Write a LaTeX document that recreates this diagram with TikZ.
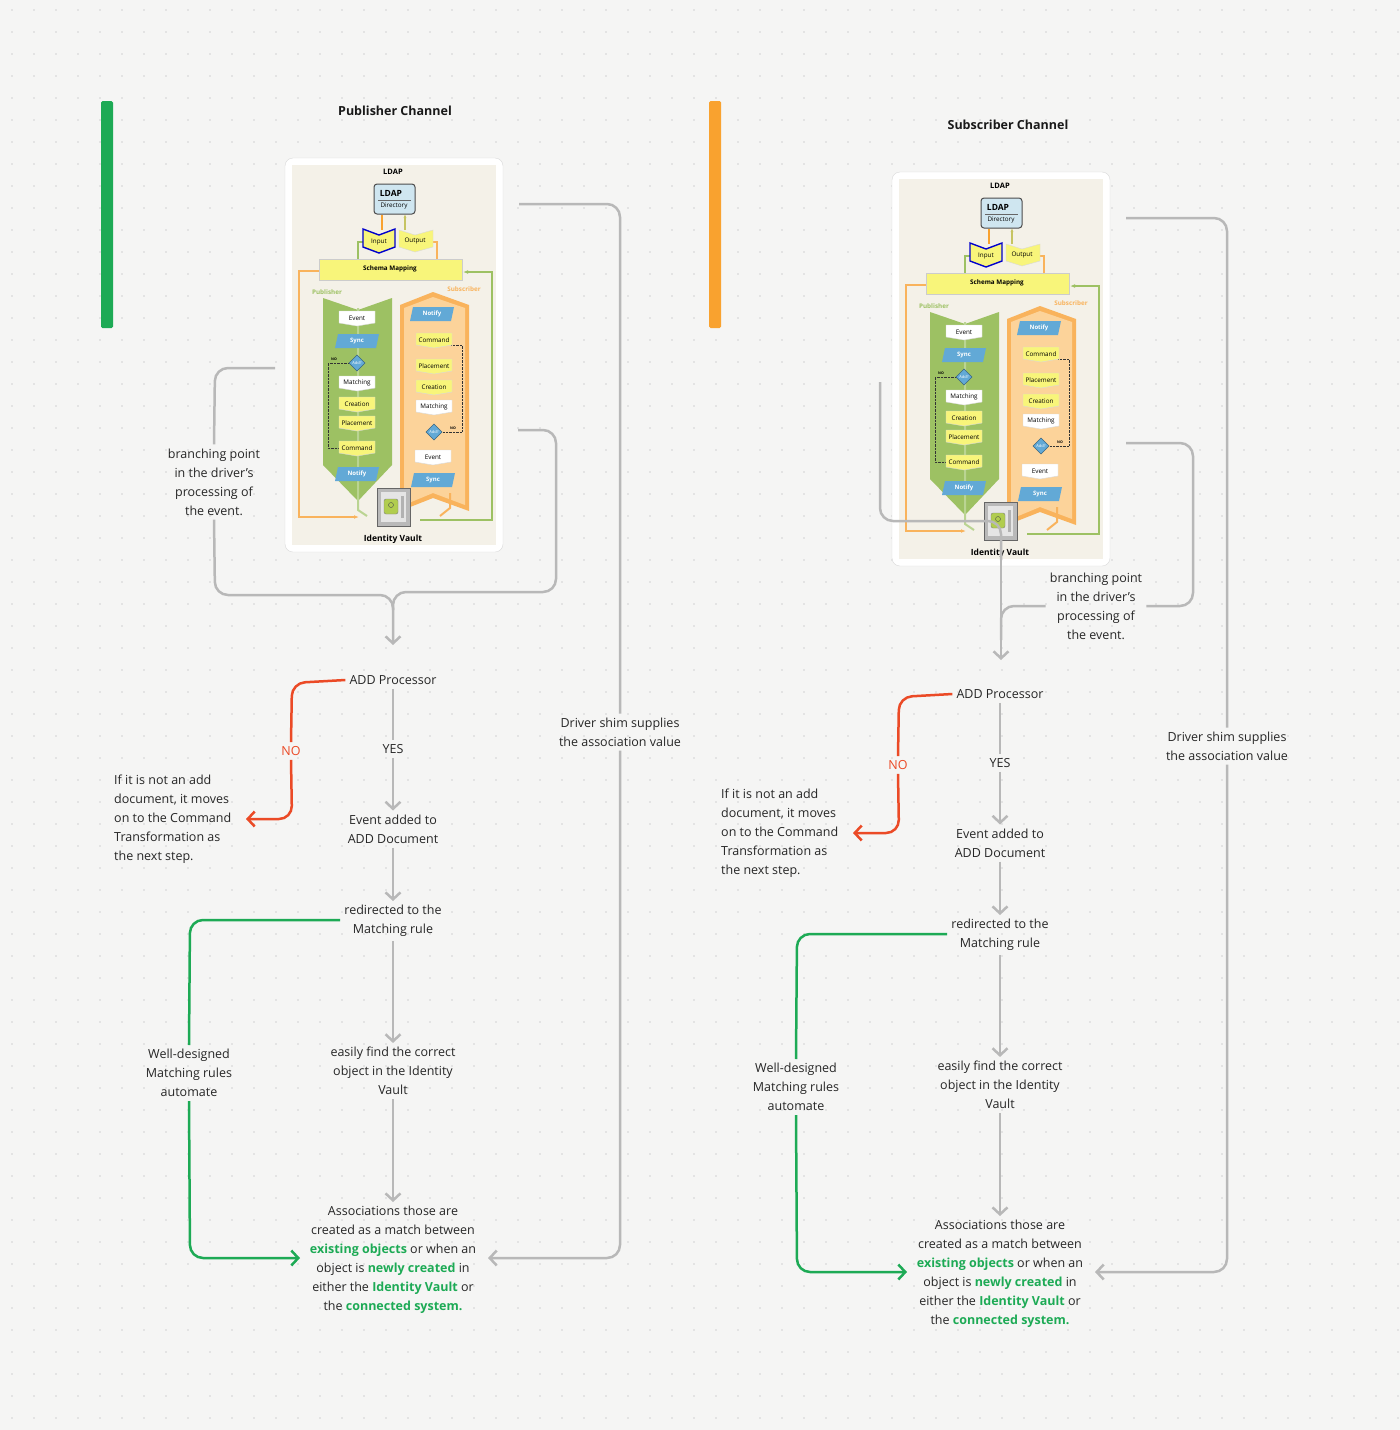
\documentclass[tikz,border=0pt]{standalone}
\usepackage{fontspec}
\setmainfont{Open Sans}
\usetikzlibrary{arrows.meta}
\definecolor{bgc}{HTML}{F5F5F4}
\definecolor{dotc}{HTML}{D2D2D2}
\definecolor{lnc}{HTML}{B8B8B8}
\definecolor{redc}{HTML}{EB4A26}
\definecolor{grc}{HTML}{1DAA55}
\definecolor{orc}{HTML}{F9A22F}
\definecolor{cardbg}{HTML}{F4F1E8}
\definecolor{gA}{HTML}{9DC163}
\definecolor{oA}{HTML}{F9B35C}
\definecolor{oL}{HTML}{FCD39A}
\definecolor{yA}{HTML}{F8F57A}
\definecolor{bA}{HTML}{62A9D6}
\definecolor{ldb}{HTML}{CFE6F0}
\tikzset{
  gl/.style={draw=lnc,line width=2.5pt,rounded corners=13pt},
  rl/.style={draw=redc,line width=2.5pt,rounded corners=13pt},
  grl/.style={draw=grc,line width=2.5pt,rounded corners=13pt},
  tip/.style={-{Straight Barb[length=7pt,width=15pt,line width=2.5pt]}},
  txt/.style={font=\fontsize{12.5}{19}\selectfont,text=black!85,align=center,inner sep=4pt},
  ttl/.style={font=\bfseries\fontsize{12.5}{15}\selectfont,text=black!90},
  tiny/.style={font=\fontsize{6.3}{7}\selectfont,inner sep=0pt},
}
\newcommand\itm[4]{\fill[#3,draw=black!15] (#1-18,#2-7) -- (#1+18,#2-7) -- (#1+18,#2+5) -- (#1,#2+8) -- (#1-18,#2+5) -- cycle;
  \node[tiny] at (#1,#2) {#4};}
\newcommand\blu[3]{\fill[bA] (#1-19,#2-7) -- (#1+22,#2-7) -- (#1+19,#2+7) -- (#1-22,#2+7) -- cycle;
  \node[tiny,text=white,font=\bfseries\fontsize{6}{6}\selectfont] at (#1,#2) {#3};}
\newcommand\dia[2]{\fill[bA,draw=bA!60!black] (#1,#2-8) -- (#1+8,#2) -- (#1,#2+8) -- (#1-8,#2) -- cycle;
  \node[tiny,font=\fontsize{4}{5}\selectfont,text=white] at (#1,#2) {Add?};}
\newcommand\card{%
  \fill[white,draw=black!15,rounded corners=8pt] (0,0) rectangle (218,394);
  \fill[cardbg] (7,7) rectangle (211,387);
  \node[tiny,font=\bfseries\fontsize{7.5}{8}\selectfont] at (108,14) {LDAP};
  \draw[orc,line width=2pt] (97,57) -- (97,72);
  \draw[yA!80!black,line width=2pt,-{Latex[length=4pt]}] (120,72) -- (120,56);
  \draw[gA,line width=2pt] (80,84) -- (73,84) -- (73,101);
  \draw[oA,line width=2pt] (146,84) -- (152,84) -- (152,101);
  \draw[rounded corners=3pt,fill=ldb,draw=black!70,line width=1pt] (89,26) rectangle (130,56);
  \node[tiny,font=\bfseries\fontsize{8.5}{8}\selectfont] at (106,35) {LDAP};
  \draw[black!60] (93,42) -- (126,42);
  \node[tiny] at (109,48) {Directory};
  \draw[blue!80!black,line width=1.4pt,fill=yA] (78,71) -- (94,77) -- (110,71) -- (110,89) -- (94,95) -- (78,89) -- cycle;
  \node[tiny] at (94,84) {Input};
  \fill[yA,draw=black!15] (114,72) -- (130,77) -- (148,72) -- (148,89) -- (130,94) -- (114,89) -- cycle;
  \node[tiny] at (130,83) {Output};
  \draw[oA,line width=2pt,-{Latex[length=5pt]}] (34,113) -- (14,113) -- (14,359) -- (74,359);
  \draw[gA,line width=2pt,-{Latex[length=5pt]}] (135,362) -- (207,362) -- (207,114) -- (178,114);
  \fill[yA,draw=black!20] (34,101) rectangle (177,122);
  \node[tiny,font=\bfseries\fontsize{6.3}{6}\selectfont] at (105,111) {Schema Mapping};
  \node[tiny,font=\bfseries\fontsize{6.3}{6}\selectfont,text=gA] at (42,134) {Publisher};
  \node[tiny,font=\bfseries\fontsize{6.3}{6}\selectfont,text=oA] at (179,131) {Subscriber};
  \fill[gA] (38,140) -- (73,152) -- (107,140) -- (107,307) -- (73,343) -- (38,307) -- cycle;
  \fill[oA] (115,147) -- (148,134) -- (184,147) -- (184,353) -- (148,340) -- (115,353) -- cycle;
  \fill[oL] (119,150) -- (148,139) -- (180,150) -- (180,347) -- (148,335) -- (119,347) -- cycle;
  \draw[gA!70!white,line width=2pt] (73,150) -- (73,352) -- (82,358);
  \draw[oA,line width=2pt] (165,335) -- (165,350) -- (155,358);
  \draw[densely dotted,black!80] (66,205) -- (43,205) -- (43,290) -- (55,290);
  \node[tiny,font=\bfseries\fontsize{3.5}{4}\selectfont] at (49,201) {NO};
  \draw[densely dotted,black!80] (158,274) -- (177,274) -- (177,187) -- (166,187);
  \node[tiny,font=\bfseries\fontsize{3.5}{4}\selectfont] at (168,270) {NO};
  \itm{72}{160}{white}{Event}
  \blu{72}{183}{Sync}
  \dia{72}{205}
  \itm{72}{225}{white}{Matching}
  \itm{72}{246}{yA}{Creation}
  \itm{72}{265}{yA}{Placement}
  \itm{72}{290}{yA}{Command}
  \blu{72}{316}{Notify}
  \blu{147}{156}{Notify}
  \itm{149}{182}{yA}{Command}
  \itm{149}{208}{yA}{Placement}
  \itm{149}{229}{yA}{Creation}
  \itm{149}{249}{white}{Matching}
  \dia{149}{274}
  \itm{148}{299}{white}{Event}
  \blu{148}{322}{Sync}
  \draw[fill=gray!55,draw=black!60,line width=0.8pt] (92,330) rectangle (125,368);
  \fill[gray!20] (96,334) rectangle (121,364);
  \fill[gray!60] (116,338) rectangle (119,360);
  \draw[fill=gA!80!yellow,draw=black!50,rounded corners=2pt] (99,341) rectangle (113,356);
  \draw[black!70] (106,347) circle (2.5);
  \node[tiny,font=\bfseries\rmfamily\fontsize{8.5}{8}\selectfont] at (108,381) {Identity Vault};
}
\newcommand\chan[1]{%
  \node[txt] (#1add) at (393,680) {ADD Processor};
  \node[txt] (#1yes) at (393,749) {YES};
  \node[txt] (#1evt) at (393,829) {Event added to\\ADD Document};
  \node[txt] (#1red) at (393,921) {redirected to the\\Matching rule};
  \node[txt] (#1easy) at (393,1071) {easily find the correct\\object in the Identity\\Vault};
  \node[txt] (#1as) at (393,1260) {Associations those are\\created as a match between\\\textcolor{grc}{\bfseries existing objects} or when an\\object is \textcolor{grc}{\bfseries newly created} in\\either the \textcolor{grc}{\bfseries Identity Vault} or\\the \textcolor{grc}{\bfseries connected system.}};
  \node[txt,text=redc] (#1no) at (291,751) {NO};
  \node[txt,align=left,anchor=west] (#1ifn) at (110,819) {If it is not an add\\document, it moves\\on to the Command\\Transformation as\\the next step.};
  \node[txt] (#1well) at (189,1073) {Well-designed\\Matching rules\\automate};
  \node[txt] (#1shim) at (620,732) {Driver shim supplies\\the association value};
  \coordinate (#1redtip) at (246,819);
  \coordinate (#1grtip) at (300,1258);
  \coordinate (#1shtip) at (488,1258);
  \coordinate (#1shst) at (519,204);
  \draw[gl] (#1add) -- (#1yes);
  \draw[gl,tip] (#1yes) -- (#1evt);
  \draw[gl,tip] (#1evt) -- (#1red);
  \draw[gl,tip] (#1red) -- (#1easy);
  \draw[gl,tip] (#1easy) -- (#1as);
  \draw[rl] (#1add.west) -- (292,683) -- (#1no.north);
  \draw[rl,tip] (#1no.south) -- (292,819) -- (#1redtip);
  \draw[grl] (#1red.west |- 0,920) -- (190,920) -- (#1well.north);
  \draw[grl,tip] (#1well.south) -- (190,1258) -- (#1grtip);
  \draw[gl] (#1shst) -- (620,204) -- (#1shim.north);
  \draw[gl,tip] (#1shim.south) -- (620,1258) -- (#1shtip);
}
\begin{document}
\begin{tikzpicture}[x=1pt,y=-1pt]
\fill[bgc] (0,0) rectangle (1400,1430);
\useasboundingbox (0,0) rectangle (1400,1430);
\foreach \x in {12,34,...,1400} \foreach \y in {10,32,...,1430} \fill[dotc] (\x,\y) circle (0.9);
\fill[grc,rounded corners=1.5pt] (101,101) rectangle (113,328);
\fill[orc,rounded corners=1.5pt] (709,101) rectangle (721,328);
\node[ttl] (t1) at (395,111) {Publisher Channel};
\node[ttl] (t2) at (1008,125) {Subscriber Channel};
\begin{scope}[shift={(285,158)}]\card\end{scope}
\chan{L}
\node[txt] (bp1) at (214,482) {branching point\\in the driver's\\processing of\\the event.};
\coordinate (b1s) at (275,368);
\coordinate (b1r) at (518,430);
\coordinate (b1t) at (393,645);
\draw[gl] (b1s) -- (215,368) -- (bp1.north);
\draw[gl,tip] (bp1.south) -- (215,595) -- (393,595) -- (b1t);
\draw[gl] (b1r) -- (556,430) -- (556,592) -- (393,592) -- (393,610);
\begin{scope}[shift={(607,14)}]
\begin{scope}[shift={(285,158)}]\card\end{scope}
\chan{R}
\end{scope}
\node[txt] (bp2) at (1096,606) {branching point\\in the driver's\\processing of\\the event.};
\coordinate (b2s) at (880,382);
\coordinate (b2r) at (1126,443);
\coordinate (b2t) at (1001,660);
\draw[gl] (b2s) -- (880,521) -- (1001,521) -- (1001,560);
\draw[gl,tip] (1001,540) -- (b2t);
\draw[gl] (b2r) -- (1193,443) -- (1193,606) -- (bp2.east);
\draw[gl] (bp2.west) -- (1001,606) -- (1001,640);
\end{tikzpicture}
\end{document}
